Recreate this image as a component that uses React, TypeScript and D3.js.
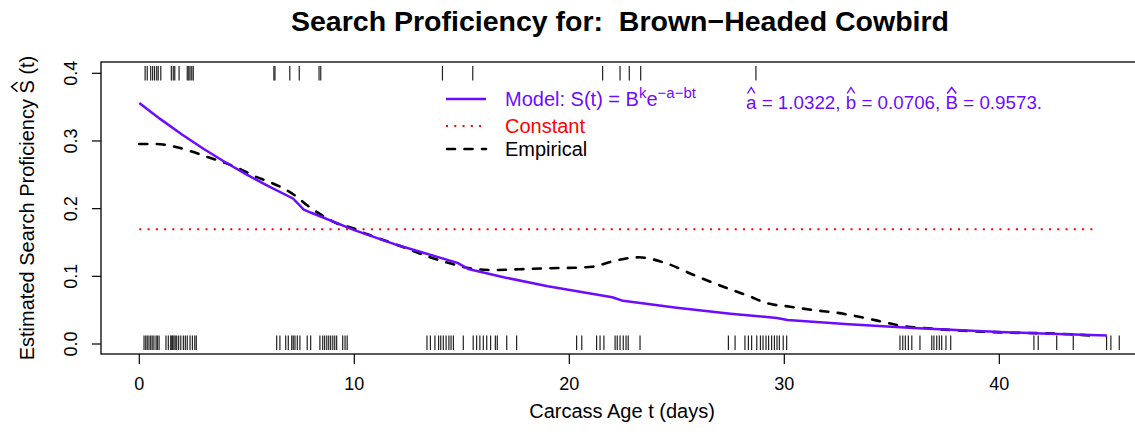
import React, { useEffect, useRef } from 'react';
import * as d3 from 'd3';

// ---------- data ----------
const xTicks = [0, 10, 20, 30, 40];
const yTicks = [0, 0.1, 0.2, 0.3, 0.4];
const yTickLabels = ['0.0', '0.1', '0.2', '0.3', '0.4'];

// carcass ages found (top rug, drawn at S = 0.4)
const topRugDays = [0.27, 0.37, 0.53, 0.62, 0.71, 0.81, 0.88, 1.0, 1.49, 1.58, 1.65, 1.85, 2.23, 2.30, 2.36, 2.44, 2.51,
  6.26, 6.31, 7.0, 7.44, 8.36, 8.44, 14.1, 15.51, 21.55, 22.36, 22.79, 23.32, 28.68];

// carcass ages missed (bottom rug, drawn at S = 0)
const bottomRugDays = [0.22, 0.30, 0.37, 0.45, 0.53, 0.60, 0.68, 0.78, 0.84, 0.92,
  1.24, 1.35, 1.46, 1.51, 1.55, 1.61, 1.67, 1.74, 1.83, 1.93, 2.05, 2.14, 2.23, 2.36, 2.47, 2.58, 2.65,
  6.39, 6.54, 6.81, 6.93, 7.09, 7.16, 7.24, 7.35, 7.47, 7.81, 7.97, 8.40, 8.53, 8.62, 8.72, 8.81, 8.90, 9.00, 9.09, 9.18, 9.46, 9.57, 9.67,
  13.38, 13.54, 13.75, 13.92, 14.02, 14.14, 14.27, 14.40, 14.50, 14.61, 15.07, 15.53, 15.69, 15.84, 16.0, 16.16, 16.34, 16.56, 16.65, 17.09, 17.55,
  20.34, 20.58, 21.27, 21.43, 21.61, 22.13, 22.23, 22.36, 22.51, 22.64, 22.74, 23.29,
  27.40, 27.71, 28.17, 28.33, 28.48, 28.72, 28.89, 29.01, 29.15, 29.27, 29.41, 29.54, 29.66, 29.77, 29.95, 30.11,
  35.38, 35.51, 35.63, 35.77, 35.93, 36.31, 36.86, 36.96, 37.09, 37.21, 37.32, 37.52, 37.74,
  41.61, 41.81, 42.67, 43.44, 44.99, 45.19, 45.58];

// model curve
const modelDays = [0, 1, 2, 3, 4, 5, 6, 7.15, 7.65, 8, 10, 12, 14.8, 15.3, 17, 19, 22.0, 22.5, 25, 27.5, 29.65, 30.15, 33, 36, 39, 42, 45];
const modelValues = [0.3562, 0.3319, 0.3093, 0.2882, 0.2686, 0.2503, 0.2332, 0.2150, 0.1987, 0.1939, 0.1683, 0.1462, 0.1199,
  0.1109, 0.0983, 0.0854, 0.0691, 0.0638, 0.0535, 0.0448, 0.0385, 0.0356, 0.0291, 0.0236, 0.0191, 0.0154, 0.0125];

// empirical curve
const empDays = [0, 0.81, 1.66, 2.36, 3.13, 3.91, 4.69, 5.30, 5.93, 6.70, 7.32, 7.79, 8.56, 9.18, 9.95, 10.58, 11.35, 12.13,
  12.90, 13.67, 14.45, 15.38, 16.40, 17.68, 18.96, 20.24, 21.09, 21.95, 23.23, 24.51, 25.79, 27.07, 28.35, 29.21, 30.28,
  31.34, 32.41, 33.48, 34.55, 35.40, 36.68, 37.75, 39.25, 40.53, 42.02, 43.30, 44.59];
const empValues = [0.2955, 0.2955, 0.2915, 0.2852, 0.2768, 0.2685, 0.2586, 0.2487, 0.2409, 0.2301, 0.2177, 0.2054, 0.1891,
  0.1784, 0.1710, 0.1625, 0.1537, 0.1448, 0.1355, 0.1266, 0.1192, 0.1119, 0.1093, 0.1104, 0.1119, 0.1127, 0.1142, 0.1216,
  0.1281, 0.1192, 0.1020, 0.0857, 0.0709, 0.0601, 0.0551, 0.0502, 0.0463, 0.0403, 0.0330, 0.0270, 0.0232, 0.0207, 0.0182,
  0.0167, 0.0158, 0.0143, 0.0118];

// constant curve
const constantDays = [0, 44.6];
const constantValues = [0.1695, 0.1695];

const titleText = 'Search Proficiency for:  Brown\u2212Headed Cowbird';
const xLabel = 'Carcass Age t (days)';
const yLabel = 'Estimated Search Proficiency S (t)';
const annotation = 'a = 1.0322, b = 0.0706, B = 0.9573.';

// ---------- layout ----------
const W = 1135;
const H = 434;
const FONT = '"Liberation Sans", Arial, Helvetica, sans-serif';
const PURPLE = '#6c0cff';
const RED = '#ff0000';

const x = d3.scaleLinear().domain([0, 40]).range([139.3, 999.3]);
const y = d3.scaleLinear().domain([0, 0.4]).range([344, 73.3]);
const plotLeft = 101;
const plotRight = 1136;
const plotTop = 62;
const plotBottom = 354;

export default function App() {
  const annRef = useRef<SVGTextElement>(null);
  const annHats = useRef<SVGGElement>(null);
  const yLabRef = useRef<SVGTextElement>(null);
  const yLabHats = useRef<SVGGElement>(null);

  useEffect(() => {
    const addHats = (t: SVGTextElement | null, g: SVGGElement | null, idx: number[], color: string) => {
      if (!t || !g) return;
      const sel = d3.select(g);
      sel.selectAll('*').remove();
      idx.forEach((i) => {
        const e = t.getExtentOfChar(i);
        const cx = e.x + e.width / 2;
        const top = e.y + 1.5;
        const hw = Math.max(3.5, e.width * 0.36);
        sel.append('path')
          .attr('d', `M${cx - hw},${top}L${cx},${top - 6}L${cx + hw},${top}`)
          .attr('fill', 'none')
          .attr('stroke', color)
          .attr('stroke-width', 1.4);
      });
    };
    addHats(annRef.current, annHats.current, [0, 12, 24], PURPLE);
    addHats(yLabRef.current, yLabHats.current, [29], '#000');
  }, []);

  const modelLine = d3.line<number>().x((_, i) => x(modelDays[i])).y((d) => y(d)).curve(d3.curveLinear)(modelValues) || '';
  const empLine = d3.line<number>().x((_, i) => x(empDays[i])).y((d) => y(d)).curve(d3.curveMonotoneX)(empValues) || '';
  const constLine = d3.line<number>().x((_, i) => x(constantDays[i])).y((d) => y(d))(constantValues) || '';

  const rugHalf = 7.2;

  return (
    <svg width={W} height={H} style={{ position: 'absolute', left: 0, top: 0, background: '#fff' }} fontFamily={FONT}>
      <rect x={0} y={0} width={W} height={H} fill="#fff" />
      {/* title */}
      <text x={620} y={31} textAnchor="middle" fontWeight="bold" fontSize={28.5} style={{ whiteSpace: 'pre' }}>{titleText}</text>

      {/* plot box */}
      <rect x={plotLeft} y={plotTop} width={plotRight - plotLeft} height={plotBottom - plotTop} fill="none" stroke="#000" strokeWidth={1.3} />

      {/* x axis */}
      {xTicks.map((t) => (
        <g key={'xt' + t}>
          <line x1={x(t)} x2={x(t)} y1={plotBottom} y2={plotBottom + 10} stroke="#000" strokeWidth={1.2} />
          <text x={x(t)} y={390} textAnchor="middle" fontSize={18}>{t}</text>
        </g>
      ))}
      <text x={622} y={418} textAnchor="middle" fontSize={20}>{xLabel}</text>

      {/* y axis */}
      {yTicks.map((v, i) => (
        <g key={'yt' + i}>
          <line x1={plotLeft - 9} x2={plotLeft} y1={y(v)} y2={y(v)} stroke="#000" strokeWidth={1.2} />
          <text transform={`translate(77,${y(v)}) rotate(-90)`} textAnchor="middle" fontSize={18}>{yTickLabels[i]}</text>
        </g>
      ))}
      <g transform={`translate(34,${(plotTop + plotBottom) / 2}) rotate(-90)`}>
        <text ref={yLabRef} x={0} y={0} textAnchor="middle" fontSize={20}>{yLabel}</text>
        <g ref={yLabHats} />
      </g>

      {/* rugs */}
      {topRugDays.map((d, i) => (
        <line key={'tr' + i} x1={x(d)} x2={x(d)} y1={y(0.4) - rugHalf} y2={y(0.4) + rugHalf} stroke="#222" strokeWidth={1.2} />
      ))}
      {bottomRugDays.map((d, i) => (
        <line key={'br' + i} x1={x(d)} x2={x(d)} y1={y(0) - 8.5} y2={y(0) + 6} stroke="#222" strokeWidth={1.2} />
      ))}

      {/* curves */}
      <path d={constLine} fill="none" stroke={RED} strokeWidth={2} strokeDasharray="2 6.27" />
      <path d={empLine} fill="none" stroke="#000" strokeWidth={2.6} strokeDasharray="8 9.5" strokeLinecap="round" />
      <path d={modelLine} fill="none" stroke={PURPLE} strokeWidth={2.5} strokeLinejoin="round" />

      {/* legend */}
      <line x1={446} x2={486} y1={99} y2={99} stroke={PURPLE} strokeWidth={2.5} />
      <line x1={446} x2={486} y1={126} y2={126} stroke={RED} strokeWidth={2} strokeDasharray="2 6.27" />
      <line x1={447} x2={486} y1={149} y2={149} stroke="#000" strokeWidth={2.6} strokeDasharray="8 9.5" strokeLinecap="round" />
      <text x={505} y={106} fontSize={20} fill={PURPLE}>
        Model: S(t) = B<tspan dy={-8} fontSize={15}>k</tspan><tspan dy={8} fontSize={20}>e</tspan><tspan dy={-8} fontSize={15}>{'\u2212a\u2212bt'}</tspan>
      </text>
      <text x={505} y={133} fontSize={20} fill={RED}>Constant</text>
      <text x={505} y={156} fontSize={20} fill="#000">Empirical</text>

      {/* parameter annotation */}
      <text ref={annRef} x={746} y={109} fontSize={18.8} fill={PURPLE}>{annotation}</text>
      <g ref={annHats} />
    </svg>
  );
}
